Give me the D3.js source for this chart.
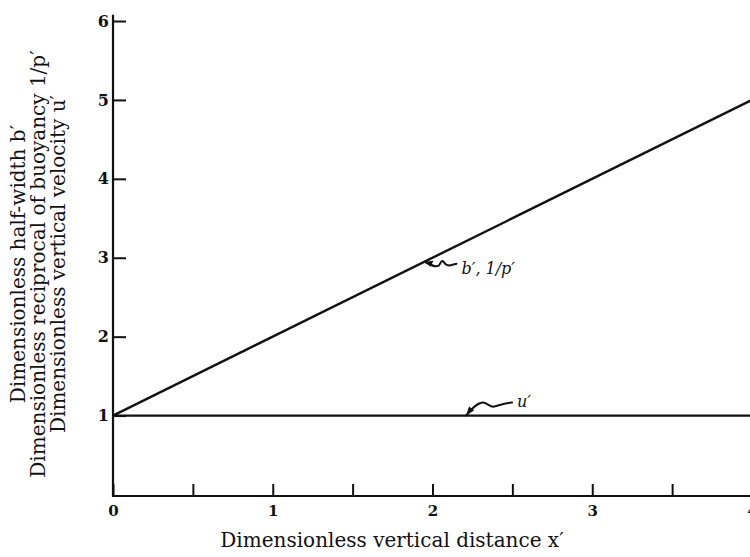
<!DOCTYPE html>
<html>
<head>
<meta charset="utf-8">
<script src="https://cdn.jsdelivr.net/npm/d3@7"></script>
<style>
body { margin: 0; background: #fff; }
svg { display: block; }
text { font-family: "DejaVu Serif", serif; fill: #111; }
</style>
</head>
<body>
<svg width="750" height="557"></svg>
<script>
// series: straight lines
var xPts = [0, 4];
var bPts = [1, 5];       // b', 1/p'
var uPts = [1, 1];       // u'
var xTicks = [0, 0.5, 1, 1.5, 2, 2.5, 3, 3.5, 4];
var yTicks = [1, 2, 3, 4, 5, 6];
var yTitle = ["Dimensionless half-width b\u2032",
	"Dimensionless reciprocal of buoyancy 1/p\u2032",
	"Dimensionless vertical velocity u\u2032"];
var xTitle = "Dimensionless vertical distance x\u2032";

var svg = d3.select("svg");
var xScale = d3.scaleLinear().domain([0, 4]).range([113, 752]);
var yScale = d3.scaleLinear().domain([0, 6]).range([494.5, 21]);
var ink = "#111";

// axes
var xAxis = svg.append("g").attr("transform", "translate(0,496)")
	.call(d3.axisBottom(xScale).tickValues(xTicks).tickSize(-12).tickPadding(9)
		.tickFormat(function(d) { return Number.isInteger(d) ? d : ""; }));
xAxis.select(".domain").remove();
xAxis.selectAll("line").attr("stroke", ink).attr("stroke-width", 2);
xAxis.selectAll("text").attr("font-size", 15).attr("font-weight", "bold")
	.style("font-family", "'DejaVu Serif', serif");

var yAxis = svg.append("g").attr("transform", "translate(113,0)")
	.call(d3.axisLeft(yScale).tickValues(yTicks).tickSize(-13).tickPadding(4)
		.tickFormat(d3.format("d")));
yAxis.select(".domain").remove();
yAxis.selectAll("line").attr("stroke", ink).attr("stroke-width", 2);
yAxis.selectAll("text").attr("font-size", 16).attr("font-weight", "bold")
	.style("font-family", "'DejaVu Serif', serif");

svg.append("line").attr("x1", xScale(0)).attr("x2", xScale(0))
	.attr("y1", yScale(6.08)).attr("y2", 497)
	.attr("stroke", ink).attr("stroke-width", 2.2);
svg.append("line").attr("x1", xScale(0) - 1).attr("x2", 750)
	.attr("y1", 496).attr("y2", 496)
	.attr("stroke", ink).attr("stroke-width", 2.2);

// lines
var line = d3.line().x(function(d) { return xScale(d[0]); })
	.y(function(d) { return yScale(d[1]); });
[bPts, uPts].forEach(function(s) {
	svg.append("path").datum(xPts.map(function(x, i) { return [x, s[i]]; }))
		.attr("d", line).attr("fill", "none")
		.attr("stroke", ink).attr("stroke-width", 2.4);
});

// annotations with squiggly leaders
function leader(tx, ty, path) {
	var g = svg.append("g").attr("transform", "translate(" + tx + "," + ty + ")");
	g.append("path").attr("d", path).attr("fill", "none")
		.attr("stroke", ink).attr("stroke-width", 2).attr("stroke-linecap", "round");
	return g;
}
var bx = xScale(1.95), by = yScale(1 + 1.95);
var gb = leader(bx, by, "M0,0 C6,3 10,6 14,4 C16,2 17,-2 19,0 C21,3 24,5 28,3 L32,2");
gb.append("path").attr("d", "M0,0 L9,-1 L6,5 Z").attr("fill", ink);
svg.append("text").attr("x", bx + 37).attr("y", by + 12)
	.attr("font-size", 16).attr("font-style", "italic").text("b\u2032, 1/p\u2032");

var ux = xScale(2.21), uy = yScale(1);
var gu = leader(ux, uy, "M0,0 C5,-6 10,-12 16,-13 C20,-14 24,-8 28,-9 C33,-10 40,-13 46,-13");
gu.append("path").attr("d", "M0,0 L3,-9 L8,-5 Z").attr("fill", ink);
svg.append("text").attr("x", ux + 51).attr("y", uy - 9)
	.attr("font-size", 16).attr("font-style", "italic").text("u\u2032");

// titles
svg.append("text").attr("x", 392).attr("y", 547).attr("text-anchor", "middle")
	.attr("font-size", 20).text(xTitle);
var yt = svg.append("g").attr("transform", "translate(0,264) rotate(-90)");
yTitle.forEach(function(t, i) {
	yt.append("text").attr("x", 0).attr("y", 25 + i * 20).attr("text-anchor", "middle")
		.attr("font-size", 20).text(t);
});
</script>
</body>
</html>
